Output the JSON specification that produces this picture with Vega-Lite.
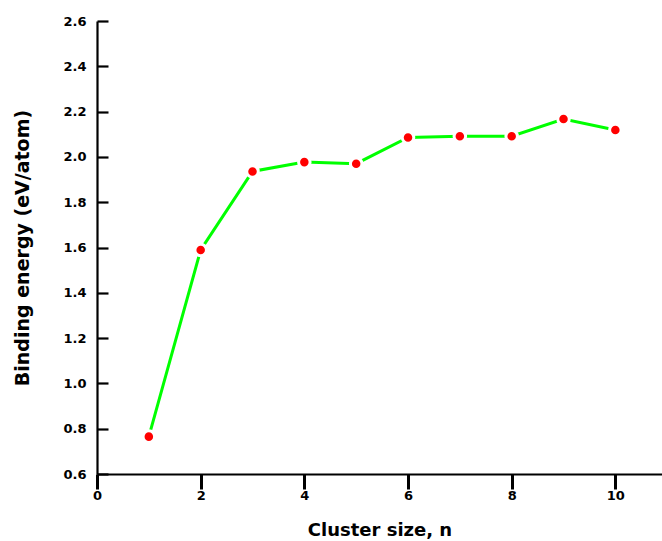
{
  "$schema": "https://vega.github.io/schema/vega-lite/v6.json",
  "autosize": "none",
  "width": 565,
  "height": 453,
  "padding": {"left": 97, "top": 21, "right": 0, "bottom": 67},
  "background": "white",
  "config": {
    "view": {"stroke": null},
    "axis": {
      "grid": false,
      "domainColor": "black",
      "domainWidth": 2.2,
      "tickColor": "black",
      "tickWidth": 2.2,
      "labelFont": "DejaVu Sans",
      "labelFontWeight": "bold",
      "labelFontSize": 13,
      "labelColor": "black",
      "titleFont": "DejaVu Sans",
      "titleFontWeight": "bold",
      "titleColor": "black"
    }
  },
  "data": {
    "values": [
      {"n": 1, "energy": 0.765},
      {"n": 2, "energy": 1.589},
      {"n": 3, "energy": 1.936},
      {"n": 4, "energy": 1.977},
      {"n": 5, "energy": 1.970},
      {"n": 6, "energy": 2.086},
      {"n": 7, "energy": 2.091},
      {"n": 8, "energy": 2.091},
      {"n": 9, "energy": 2.167},
      {"n": 10, "energy": 2.119}
    ]
  },
  "encoding": {
    "x": {
      "field": "n",
      "type": "quantitative",
      "scale": {"domain": [0, 10.9], "nice": false, "zero": false},
      "axis": {
        "title": "Cluster size, n",
        "titleFontSize": 18,
        "titlePadding": 19,
        "values": [0, 2, 4, 6, 8, 10],
        "format": "d",
        "ticks": true,
        "tickSize": 15,
        "tickColor": "#000000",
        "tickWidth": 3,
        "labelPadding": 0,
        "labelFlush": false
      }
    },
    "y": {
      "field": "energy",
      "type": "quantitative",
      "scale": {"domain": [0.6, 2.6], "nice": false, "zero": false},
      "axis": {
        "title": "Binding energy (eV/atom)",
        "titleFontSize": 19,
        "titlePadding": 30,
        "values": [0.6, 0.8, 1.0, 1.2, 1.4, 1.6, 1.8, 2.0, 2.2, 2.4, 2.6],
        "format": ".1f",
        "ticks": true,
        "tickSize": -11,
        "labelPadding": 22,
        "labelFlush": false
      }
    }
  },
  "layer": [
    {"mark": {"type": "line", "color": "#00ff00", "strokeWidth": 3}},
    {"mark": {"type": "point", "filled": true, "fill": "#ff0000", "size": 133, "stroke": "white", "strokeWidth": 3, "opacity": 1, "strokeOpacity": 1}}
  ]
}
